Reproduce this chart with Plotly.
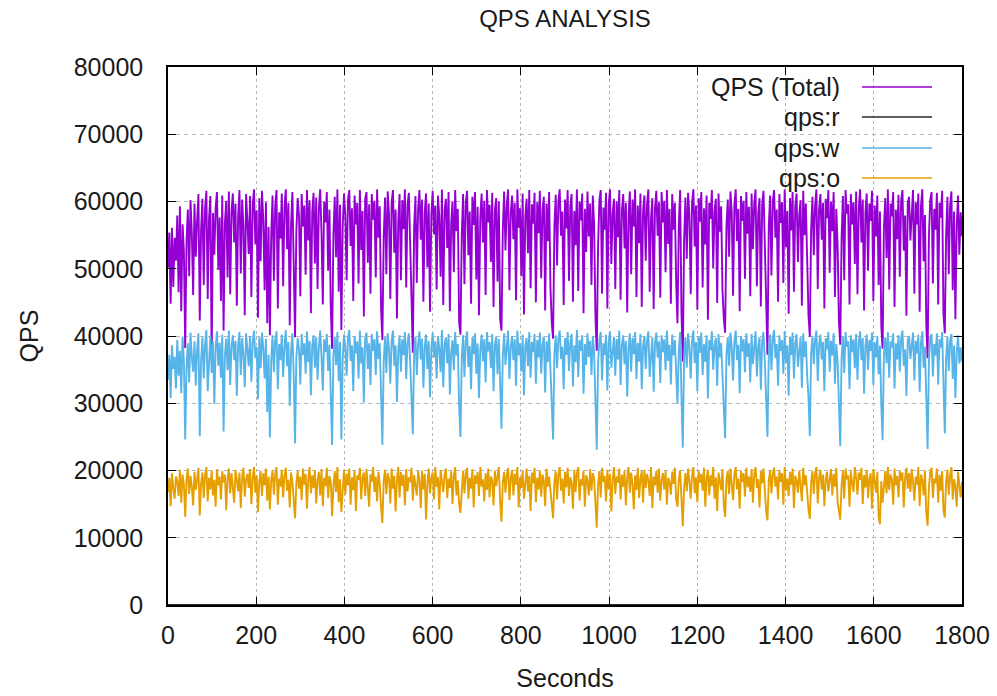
import plotly.graph_objects as go

STEP_SECONDS = 3

# QPS (Total), in hundreds of queries/s, one value every 3 s (rows of 60 s)
total_h = [
    502, 554, 448, 561, 473, 546, 512, 579, 465, 593, 437, 566, 527, 382, 541, 588, 489, 602, 553, 461,
    597, 518, 572, 611, 423, 558, 604, 476, 589, 616, 455, 574, 608, 366, 583, 521, 591, 614, 498, 576,
    452, 609, 408, 568, 601, 487, 615, 462, 586, 612, 539, 597, 445, 579, 617, 493, 603, 564, 431, 611,
    571, 522, 608, 458, 595, 618, 536, 587, 427, 605, 511, 616, 573, 468, 599, 419, 562, 401, 551, 609,
    482, 593, 617, 441, 584, 545, 612, 474, 591, 618, 529, 598, 416, 566, 614, 486, 398, 557, 605, 578,
    459, 611, 563, 594, 491, 617, 542, 602, 434, 585, 613, 508, 606, 470, 589, 618, 553, 447, 600, 569,
    614, 497, 588, 442, 381, 552, 607, 517, 618, 466, 595, 409, 561, 612, 579, 483, 603, 617, 534, 590,
    452, 609, 566, 598, 478, 617, 528, 586, 429, 604, 614, 509, 596, 463, 611, 573, 601, 487, 618, 546,
    593, 441, 394, 547, 606, 492, 615, 581, 455, 599, 617, 524, 588, 426, 571, 611, 483, 602, 559, 618,
    472, 596, 613, 538, 427, 375, 562, 608, 479, 590, 617, 543, 603, 451, 584, 612, 502, 597, 436, 579,
    616, 551, 594, 469, 609, 577, 488, 618, 446, 587, 604, 531, 614, 437, 568, 600, 495, 617, 556, 589,
    421, 402, 552, 611, 477, 598, 616, 520, 585, 448, 607, 565, 614, 484, 592, 431, 576, 612, 539, 601,
    461, 617, 569, 595, 510, 613, 443, 587, 605, 481, 600, 425, 408, 558, 615, 527, 594, 618, 468, 583,
    609, 544, 598, 453, 618, 561, 590, 489, 612, 432, 579, 604, 523, 617, 471, 596, 567, 613, 450, 599,
    553, 616, 486, 588, 607, 438, 597, 541, 614, 473, 419, 396, 564, 610, 505, 601, 618, 549, 585, 446,
    603, 560, 617, 482, 593, 611, 451, 586, 535, 618, 467, 600, 572, 612, 434, 589, 525, 615, 548, 597,
    476, 609, 566, 428, 378, 534, 602, 617, 463, 591, 558, 613, 441, 596, 618, 507, 583, 604, 470, 600,
    547, 617, 454, 587, 611, 530, 598, 435, 579, 615, 492, 603, 563, 618, 458, 594, 538, 612, 443, 586,
    609, 512, 597, 618, 466, 575, 605, 440, 590, 616, 549, 599, 457, 614, 569, 601, 495, 617, 537, 589,
    448, 611, 558, 598, 480, 419, 566, 617, 436, 362, 542, 606, 515, 613, 581, 462, 597, 618, 533, 594,
    439, 605, 570, 614, 472, 590, 536, 609, 424, 598, 574, 617, 501, 587, 604, 449, 612, 555, 593, 468,
    426, 405, 563, 603, 518, 615, 584, 460, 596, 618, 541, 589, 437, 608, 571, 601, 485, 614, 552, 592,
    459, 612, 529, 597, 618, 474, 583, 605, 444, 596, 616, 537, 418, 372, 564, 609, 490, 600, 617, 546,
    588, 451, 611, 568, 599, 479, 618, 532, 586, 433, 605, 557, 614, 466, 593, 612, 510, 580, 602, 445,
    616, 550, 597, 487, 431, 399, 559, 607, 520, 595, 618, 470, 588, 611, 543, 598, 441, 604, 575, 617,
    494, 600, 556, 614, 458, 589, 534, 421, 387, 545, 608, 483, 617, 582, 596, 447, 611, 566, 599, 507,
    615, 462, 590, 618, 539, 603, 438, 584, 612, 497, 597, 571, 616, 452, 594, 548, 609, 476, 585, 416,
    381, 561, 605, 516, 618, 469, 597, 578, 614, 443, 588, 544, 610, 488, 601, 617, 527, 579, 430, 598,
    607, 542, 586, 617, 463, 599, 566, 612, 436, 593, 618, 511, 580, 419, 367, 548, 602, 614, 478, 589,
    558, 613, 447, 598, 576, 616, 432, 404, 551, 607, 492, 594, 615, 468, 585, 425, 563, 609, 521, 584,
    548,
]

# qps:w, in hundreds
write_h = [
    335, 372, 308, 386, 351, 369, 322, 394, 341, 378, 315, 399, 362, 246, 354, 389, 331, 405, 368, 347,
    392, 326, 381, 404, 251, 363, 398, 337, 386, 409, 318, 374, 401, 345, 392, 299, 383, 407, 356, 390,
    338, 402, 258, 371, 396, 349, 408, 327, 385, 401, 364, 393, 311, 388, 406, 342, 397, 372, 324, 404,
    379, 355, 400, 332, 391, 408, 367, 384, 306, 398, 352, 405, 381, 337, 396, 287, 372, 249, 363, 401,
    346, 393, 407, 321, 388, 364, 402, 339, 384, 409, 355, 391, 296, 377, 404, 343, 240, 368, 397, 381,
    328, 403, 372, 389, 344, 407, 361, 393, 312, 386, 401, 353, 398, 335, 382, 408, 369, 319, 395, 376,
    403, 348, 387, 306, 238, 371, 399, 357, 406, 333, 391, 246, 365, 402, 382, 341, 397, 409, 363, 386,
    318, 400, 374, 392, 337, 408, 359, 383, 301, 396, 405, 351, 389, 327, 403, 378, 395, 342, 407, 366,
    389, 315, 238, 362, 398, 345, 404, 381, 329, 393, 408, 356, 386, 302, 379, 401, 347, 395, 372, 406,
    336, 391, 404, 361, 318, 254, 377, 399, 342, 388, 407, 365, 396, 323, 384, 402, 351, 393, 309, 381,
    405, 368, 392, 337, 400, 382, 346, 409, 324, 387, 398, 359, 403, 313, 376, 394, 349, 406, 371, 388,
    296, 250, 366, 401, 339, 393, 407, 354, 385, 321, 398, 373, 404, 344, 389, 308, 380, 402, 362, 395,
    331, 406, 377, 391, 352, 403, 318, 387, 399, 343, 396, 305, 262, 370, 404, 357, 392, 408, 336, 383,
    400, 364, 395, 326, 408, 371, 389, 347, 402, 312, 385, 397, 355, 406, 338, 391, 376, 403, 329, 394,
    368, 405, 344, 387, 399, 316, 392, 361, 404, 335, 298, 246, 374, 401, 352, 396, 408, 366, 384, 321,
    397, 372, 406, 348, 390, 403, 325, 386, 361, 409, 339, 394, 378, 401, 314, 388, 357, 404, 369, 393,
    342, 400, 376, 303, 231, 359, 395, 406, 334, 389, 372, 402, 319, 391, 407, 353, 384, 399, 341, 396,
    365, 408, 327, 386, 401, 358, 393, 310, 382, 404, 347, 397, 373, 406, 336, 390, 362, 403, 321, 385,
    400, 351, 394, 407, 339, 380, 398, 317, 389, 405, 368, 392, 330, 401, 376, 395, 349, 408, 363, 387,
    328, 402, 371, 394, 345, 299, 377, 406, 312, 234, 366, 398, 353, 404, 384, 337, 393, 408, 360, 391,
    318, 399, 375, 405, 342, 388, 362, 401, 307, 394, 379, 407, 350, 386, 397, 326, 403, 368, 390, 341,
    302, 248, 372, 398, 356, 405, 383, 334, 392, 408, 364, 387, 315, 400, 377, 395, 346, 404, 369, 389,
    331, 403, 358, 391, 407, 340, 384, 398, 320, 393, 406, 362, 305, 250, 375, 402, 349, 396, 409, 367,
    388, 326, 401, 378, 394, 344, 407, 360, 386, 311, 399, 372, 405, 337, 390, 403, 354, 382, 398, 323,
    404, 369, 392, 341, 309, 251, 374, 400, 358, 395, 408, 333, 387, 402, 365, 391, 318, 397, 380, 406,
    347, 393, 371, 404, 329, 388, 362, 300, 236, 367, 399, 345, 406, 384, 392, 321, 401, 376, 395, 352,
    403, 335, 389, 407, 364, 397, 314, 385, 402, 350, 394, 378, 405, 327, 391, 368, 400, 343, 386, 298,
    245, 372, 398, 359, 406, 338, 392, 383, 404, 322, 389, 365, 401, 347, 396, 408, 356, 380, 311, 394,
    400, 366, 387, 405, 334, 393, 374, 402, 317, 390, 407, 353, 384, 301, 232, 361, 397, 403, 340, 388,
    371, 404, 328, 395, 383, 406, 315, 255, 366, 399, 348, 392, 403, 336, 386, 308, 375, 401, 359, 383,
    362,
]

# qps:o, in hundreds
other_h = [
    168, 189, 147, 196, 173, 158, 191, 184, 162, 201, 152, 194, 179, 131, 186, 203, 165, 192, 176, 148,
    198, 171, 187, 204, 133, 181, 197, 159, 193, 205, 154, 189, 172, 200, 163, 186, 146, 202, 178, 191,
    157, 199, 182, 194, 141, 188, 203, 166, 196, 175, 152, 201, 185, 169, 197, 144, 190, 204, 161, 187,
    195, 174, 202, 150, 189, 205, 167, 193, 138, 184, 199, 162, 196, 178, 203, 155, 191, 142, 186, 200,
    164, 194, 205, 149, 188, 176, 201, 160, 192, 204, 170, 186, 145, 197, 183, 158, 129, 181, 199, 173,
    191, 156, 203, 179, 195, 143, 188, 205, 166, 193, 174, 200, 151, 185, 198, 163, 202, 147, 189, 177,
    204, 159, 192, 183, 132, 176, 199, 168, 205, 153, 187, 138, 181, 201, 164, 195, 178, 203, 149, 190,
    171, 200, 140, 193, 186, 204, 157, 189, 197, 162, 202, 175, 146, 194, 183, 205, 168, 191, 154, 198,
    180, 146, 122, 184, 201, 165, 196, 188, 151, 203, 173, 192, 139, 187, 205, 160, 198, 177, 194, 148,
    202, 169, 190, 183, 204, 155, 193, 178, 163, 199, 186, 144, 200, 172, 195, 127, 181, 203, 166, 189,
    197, 157, 205, 176, 190, 142, 201, 184, 168, 194, 203, 159, 188, 174, 199, 150, 192, 205, 163, 185,
    150, 137, 181, 200, 166, 195, 204, 158, 189, 173, 202, 145, 193, 180, 198, 162, 205, 176, 187, 154,
    196, 171, 203, 160, 191, 185, 148, 200, 177, 194, 205, 152, 124, 182, 198, 167, 193, 204, 156, 188,
    201, 163, 195, 179, 205, 145, 190, 174, 199, 158, 186, 203, 169, 192, 140, 197, 181, 204, 153, 189,
    172, 200, 161, 194, 185, 147, 203, 176, 191, 166, 141, 129, 183, 199, 157, 195, 205, 170, 188, 151,
    198, 175, 204, 162, 190, 181, 143, 201, 168, 196, 205, 155, 187, 178, 200, 146, 193, 184, 163, 202,
    170, 196, 188, 149, 115, 178, 199, 160, 204, 183, 192, 154, 201, 172, 195, 139, 186, 205, 165, 191,
    182, 203, 157, 194, 176, 200, 148, 189, 205, 167, 197, 180, 142, 193, 171, 204, 159, 188, 199, 152,
    201, 174, 195, 185, 162, 205, 144, 191, 178, 199, 167, 203, 155, 186, 196, 172, 200, 149, 189, 183,
    164, 198, 180, 204, 157, 146, 187, 200, 151, 117, 175, 196, 169, 203, 184, 158, 192, 205, 166, 190,
    153, 199, 182, 195, 170, 204, 146, 188, 201, 163, 193, 177, 205, 158, 190, 140, 197, 184, 171, 202,
    148, 131, 186, 199, 165, 203, 179, 156, 194, 205, 172, 188, 143, 200, 183, 196, 161, 204, 175, 191,
    168, 202, 152, 194, 205, 174, 187, 145, 199, 181, 203, 160, 139, 126, 185, 200, 166, 195, 204, 176,
    191, 157, 201, 183, 196, 149, 205, 170, 188, 162, 198, 179, 203, 144, 192, 185, 167, 200, 173, 154,
    204, 178, 193, 160, 142, 128, 182, 199, 165, 196, 205, 151, 189, 201, 172, 194, 147, 187, 198, 169,
    185, 202, 163, 195, 176, 204, 153, 140, 127, 178, 200, 158, 203, 187, 193, 146, 199, 181, 168, 205,
    190, 164, 197, 186, 204, 150, 193, 175, 201, 159, 188, 196, 143, 202, 179, 167, 198, 132, 120, 184,
    152, 181, 199, 166, 205, 171, 194, 187, 149, 203, 178, 192, 160, 200, 185, 197, 145, 189, 204, 173,
    196, 168, 202, 183, 155, 191, 179, 205, 147, 194, 186, 163, 200, 138, 118, 175, 197, 204, 159, 188,
    181, 203, 152, 194, 170, 199, 141, 130, 184, 201, 164, 192, 205, 157, 187, 175, 146, 198, 182, 160,
    183,
]

# qps:r stays at zero throughout
read_h = [0] * len(total_h)

seconds = [i * STEP_SECONDS for i in range(len(total_h))]

series = [
    ("QPS (Total)", total_h, "#9400D3"),
    ("qps:r", read_h, "#2b2b2b"),
    ("qps:w", write_h, "#56B4E9"),
    ("qps:o", other_h, "#E69F00"),
]

x_ticks = [0, 200, 400, 600, 800, 1000, 1200, 1400, 1600, 1800]
y_ticks = [0, 10000, 20000, 30000, 40000, 50000, 60000, 70000, 80000]

FONT = "Liberation Sans, Arial, sans-serif"
TXT = "#1a1a1a"
FS = 25

fig = go.Figure()
for name, vals, color in series:
    fig.add_trace(go.Scatter(
        x=seconds, y=[v * 100 for v in vals], mode="lines", name=name,
        line=dict(color=color, width=1.9), showlegend=False,
    ))

# gnuplot-style key: text right-aligned, line sample on its right
L, R, T, B = 168, 962, 67, 605
W, H = R - L, B - T
def px(x):
    return (x - L) / W
def py(y):
    return (B - y) / H

shapes = [dict(type="rect", xref="paper", yref="paper",
               x0=px(675), x1=px(960), y0=py(193), y1=py(68),
               fillcolor="white", line=dict(width=0), layer="between")]
annotations = []
rows = [87, 117, 148, 178]
for (name, _, color), ry in zip(series, rows):
    annotations.append(dict(xref="paper", yref="paper", x=px(842), y=py(ry),
                            text=name, showarrow=False, xanchor="right",
                            yanchor="middle", font=dict(family=FONT, size=FS, color=TXT)))
    shapes.append(dict(type="line", xref="paper", yref="paper",
                       x0=px(862), x1=px(932), y0=py(ry), y1=py(ry),
                       line=dict(color=color, width=1.6), layer="above"))

fig.update_layout(
    width=997, height=696,
    margin=dict(l=L, r=997 - R, t=T, b=696 - B),
    paper_bgcolor="white", plot_bgcolor="white",
    title=dict(text="QPS ANALYSIS", x=(L + R) / 2 / 997, xanchor="center",
               y=1 - 19 / 696, yanchor="middle",
               font=dict(family=FONT, size=FS - 1, color=TXT)),
    shapes=shapes, annotations=annotations,
    showlegend=False,
)
fig.update_xaxes(
    range=[0, 1800], tickvals=x_ticks, ticktext=[str(v) for v in x_ticks],
    showline=True, linecolor="black", linewidth=1.5, mirror="ticks",
    ticks="inside", ticklen=8, tickcolor="black", tickwidth=1.2,
    showgrid=True, gridcolor="#b5b5b5", gridwidth=1, griddash="dot",
    zeroline=False, ticklabelstandoff=7, automargin=False,
    tickfont=dict(family=FONT, size=FS, color=TXT),
    title=dict(text="Seconds", font=dict(family=FONT, size=FS, color=TXT), standoff=22),
)
fig.update_yaxes(
    range=[0, 80000], tickvals=y_ticks, ticktext=[str(v) for v in y_ticks],
    showline=True, linecolor="black", linewidth=1.5, mirror="ticks",
    ticks="inside", ticklen=8, tickcolor="black", tickwidth=1.2,
    showgrid=True, gridcolor="#b5b5b5", gridwidth=1, griddash="4px,4px",
    zeroline=False, ticklabelstandoff=18, automargin=False,
    tickfont=dict(family=FONT, size=FS, color=TXT),
    title=dict(text="QPS", font=dict(family=FONT, size=FS, color=TXT), standoff=28),
)

fig.write_html("out.html")
